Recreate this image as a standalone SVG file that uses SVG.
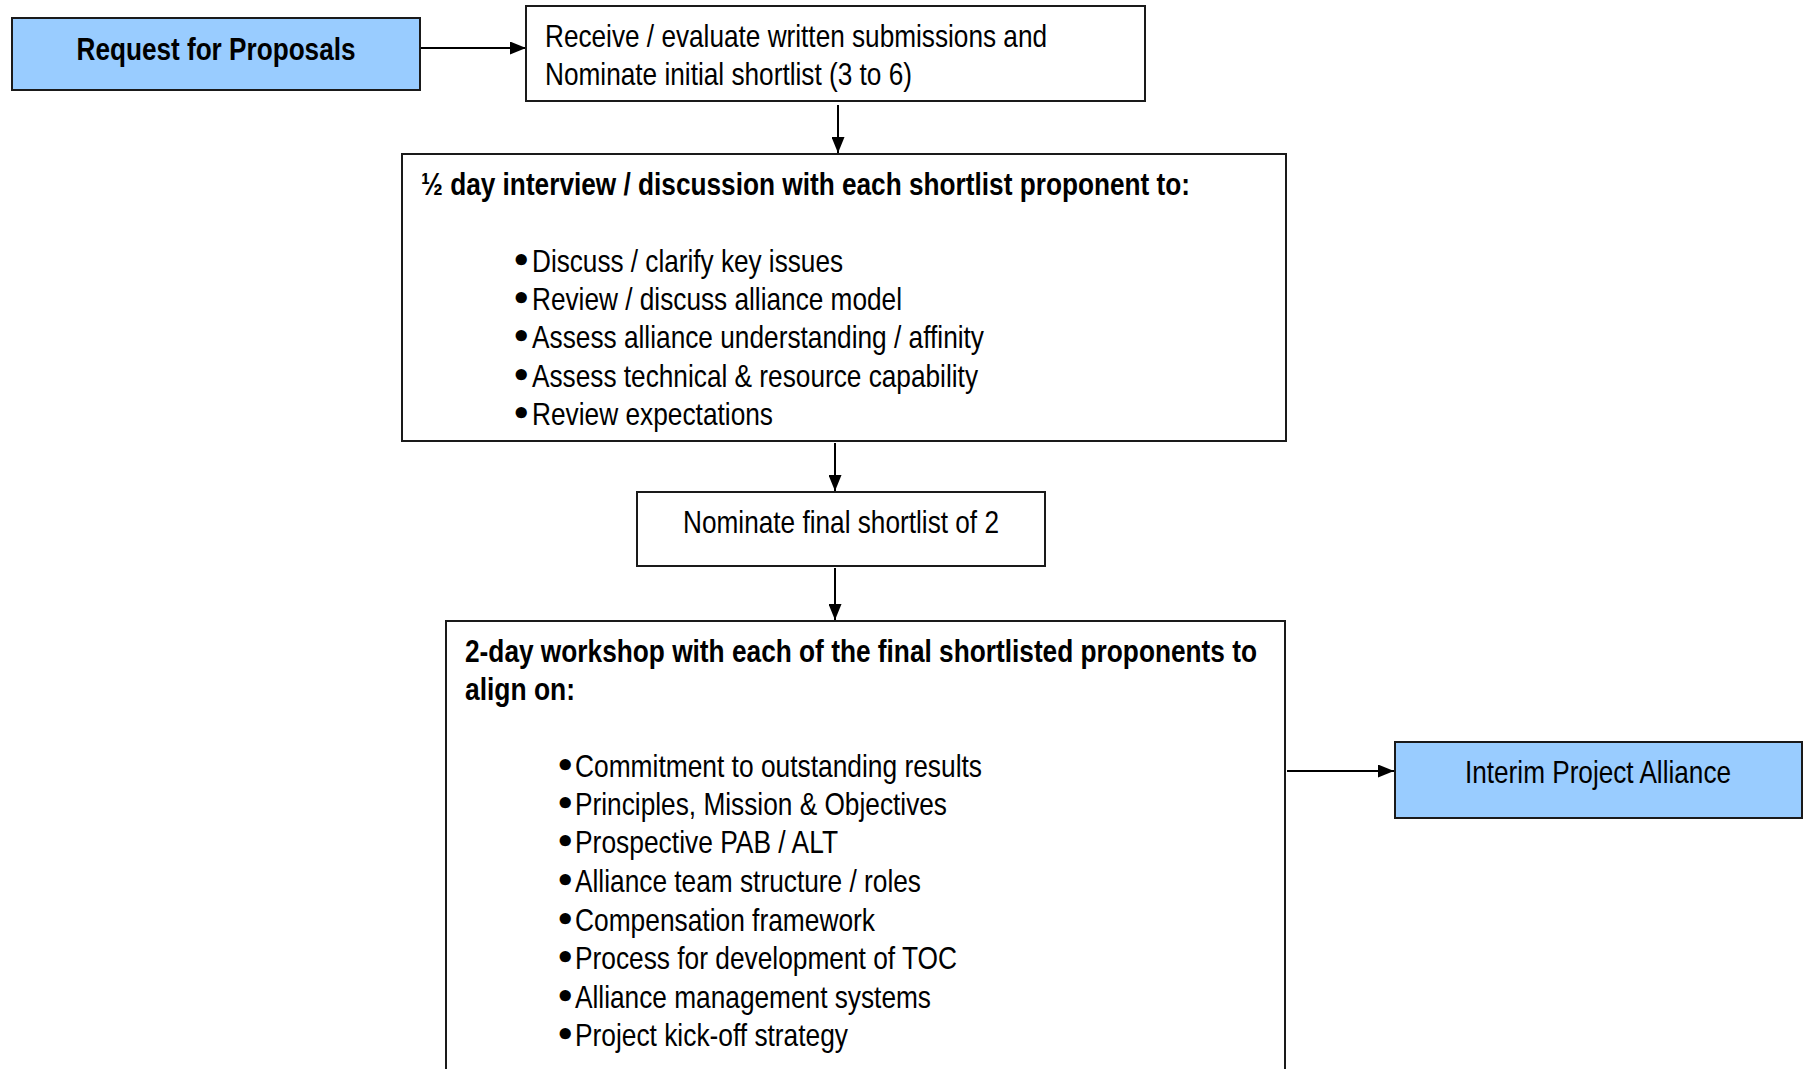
<svg xmlns="http://www.w3.org/2000/svg" width="1808" height="1069" viewBox="0 0 1808 1069">
  <style>
    .box { fill: #ffffff; stroke: #1a1a1a; stroke-width: 2; }
    .blue { fill: #99ccff; stroke: #1a1a1a; stroke-width: 2; }
    text { font-family: "Liberation Sans Narrow", "Arial Narrow", "Liberation Sans", sans-serif; font-size: 32px; fill: #000000; }
    text.dot { font-family: "DejaVu Sans", sans-serif; font-size: 32px; font-weight: bold; }
    .b { font-weight: bold; }
    .mid { text-anchor: middle; }
    .conn { stroke: #000000; stroke-width: 2; fill: none; marker-end: url(#arrow); }
  </style>
  <defs>
    <marker id="arrow" viewBox="0 0 16 13" refX="16" refY="6.5" markerWidth="16" markerHeight="13" markerUnits="userSpaceOnUse" orient="auto">
      <path d="M0,0 L16,6.5 L0,13 Z" fill="#000000"/>
    </marker>
  </defs>
  <rect width="1808" height="1069" fill="#ffffff"/>

  <!-- connectors -->
  <g id="connectors">
    <line class="conn" x1="421" y1="48" x2="526" y2="48"/>
    <line class="conn" x1="838" y1="105" x2="838" y2="153"/>
    <line class="conn" x1="835" y1="443" x2="835" y2="491"/>
    <line class="conn" x1="835" y1="568" x2="835" y2="620"/>
    <line class="conn" x1="1287" y1="771" x2="1394" y2="771"/>
  </g>

  <!-- Request for Proposals -->
  <g id="request">
    <rect class="blue" x="12" y="18" width="408" height="72"/>
    <text class="b mid" x="216" y="60" textLength="279" lengthAdjust="spacingAndGlyphs">Request for Proposals</text>
  </g>

  <!-- initial evaluation -->
  <g id="evaluate">
    <rect class="box" x="526" y="6" width="619" height="95"/>
    <text x="545" y="47" textLength="502" lengthAdjust="spacingAndGlyphs">Receive / evaluate written submissions and</text>
    <text x="545" y="85" textLength="367" lengthAdjust="spacingAndGlyphs">Nominate initial shortlist (3 to 6)</text>
  </g>

  <!-- half-day interview -->
  <g id="interview">
    <rect class="box" x="402" y="154" width="884" height="287"/>
    <text class="b" x="421" y="195" textLength="769" lengthAdjust="spacingAndGlyphs">½ day interview / discussion with each shortlist proponent to:</text>
    <g class="bullets">
      <text class="dot" x="511" y="272">•</text>
      <text class="dot" x="511" y="310">•</text>
      <text class="dot" x="511" y="348">•</text>
      <text class="dot" x="511" y="387">•</text>
      <text class="dot" x="511" y="425">•</text>
    </g>
    <text x="532" y="272" textLength="311" lengthAdjust="spacingAndGlyphs">Discuss / clarify key issues</text>
    <text x="532" y="310" textLength="370" lengthAdjust="spacingAndGlyphs">Review / discuss alliance model</text>
    <text x="532" y="348" textLength="452" lengthAdjust="spacingAndGlyphs">Assess alliance understanding / affinity</text>
    <text x="532" y="387" textLength="446" lengthAdjust="spacingAndGlyphs">Assess technical &amp; resource capability</text>
    <text x="532" y="425" textLength="241" lengthAdjust="spacingAndGlyphs">Review expectations</text>
  </g>

  <!-- final shortlist -->
  <g id="final-shortlist">
    <rect class="box" x="637" y="492" width="408" height="74"/>
    <text class="mid" x="841" y="533" textLength="316" lengthAdjust="spacingAndGlyphs">Nominate final shortlist of 2</text>
  </g>

  <!-- two-day workshop -->
  <g id="workshop">
    <rect class="box" x="446" y="621" width="839" height="470"/>
    <text class="b" x="465" y="662" textLength="792" lengthAdjust="spacingAndGlyphs">2-day workshop with each of the final shortlisted proponents to</text>
    <text class="b" x="465" y="700" textLength="110" lengthAdjust="spacingAndGlyphs">align on:</text>
    <g class="bullets">
      <text class="dot" x="555" y="777">•</text>
      <text class="dot" x="555" y="815">•</text>
      <text class="dot" x="555" y="853">•</text>
      <text class="dot" x="555" y="892">•</text>
      <text class="dot" x="555" y="931">•</text>
      <text class="dot" x="555" y="969">•</text>
      <text class="dot" x="555" y="1008">•</text>
      <text class="dot" x="555" y="1046">•</text>
    </g>
    <text x="575" y="777" textLength="407" lengthAdjust="spacingAndGlyphs">Commitment to outstanding results</text>
    <text x="575" y="815" textLength="372" lengthAdjust="spacingAndGlyphs">Principles, Mission &amp; Objectives</text>
    <text x="575" y="853" textLength="263" lengthAdjust="spacingAndGlyphs">Prospective PAB / ALT</text>
    <text x="575" y="892" textLength="346" lengthAdjust="spacingAndGlyphs">Alliance team structure / roles</text>
    <text x="575" y="931" textLength="300" lengthAdjust="spacingAndGlyphs">Compensation framework</text>
    <text x="575" y="969" textLength="382" lengthAdjust="spacingAndGlyphs">Process for development of TOC</text>
    <text x="575" y="1008" textLength="356" lengthAdjust="spacingAndGlyphs">Alliance management systems</text>
    <text x="575" y="1046" textLength="273" lengthAdjust="spacingAndGlyphs">Project kick-off strategy</text>
  </g>

  <!-- Interim Project Alliance -->
  <g id="interim">
    <rect class="blue" x="1395" y="742" width="407" height="76"/>
    <text class="mid" x="1598" y="783" textLength="266" lengthAdjust="spacingAndGlyphs">Interim Project Alliance</text>
  </g>
</svg>
